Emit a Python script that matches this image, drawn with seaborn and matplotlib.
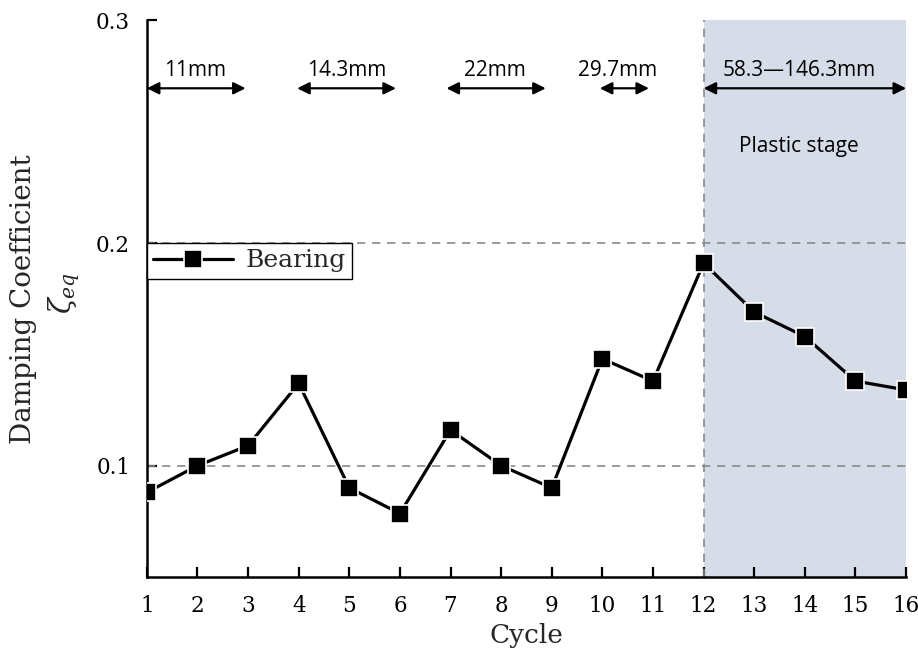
import matplotlib
matplotlib.use("Agg")
import matplotlib.pyplot as plt
import seaborn as sns
import pandas as pd

# Equivalent damping coefficient per loading cycle
cycles = list(range(1, 17))
zeta_eq = [0.088, 0.100, 0.109, 0.137, 0.090, 0.0785, 0.116, 0.100,
           0.090, 0.148, 0.138, 0.191, 0.169, 0.158, 0.138, 0.134]

# Displacement-amplitude brackets drawn above the curve
span_labels = ["11mm", "14.3mm", "22mm", "29.7mm", "58.3\u2014146.3mm"]
span_start = [1.0, 3.97, 6.92, 9.95, 12.0]
span_end = [2.95, 5.92, 8.88, 10.92, 16.0]
span_text_x = [1.95, 4.95, 7.87, 10.3, 13.88]

plastic_from, plastic_to = 12, 16
ref_levels = [0.1, 0.2]
y_ticks = [0.1, 0.2, 0.3]
y_tick_labels = ["0.1", "0.2", "0.3"]

df = pd.DataFrame({"Cycle": cycles, "zeta": zeta_eq})

sns.set_theme(style="ticks")
plt.rcParams["font.family"] = ["DejaVu Serif"]
plt.rcParams["mathtext.fontset"] = "dejavuserif"

fig = plt.figure(figsize=(9.18, 6.51), dpi=100)
ax = fig.add_axes([0.160, 0.1137, 0.827, 0.855])

ax.axvspan(plastic_from, plastic_to, color="#d6dde9", zorder=0, lw=0)
for lv in ref_levels:
    ax.axhline(lv, color="#8a8a8a", lw=1.2, ls=(0, (5, 4)), zorder=1)
ax.axvline(plastic_from, color="#8a8a8a", lw=1.2, ls=(0, (5, 4)), zorder=1)

sns.lineplot(data=df, x="Cycle", y="zeta", ax=ax, color="black",
             linewidth=2.3, marker="s", markersize=12.5,
             markeredgecolor="white", markeredgewidth=1.2,
             label="Bearing", zorder=3)

ax.set_xlim(1, 16)
ax.set_ylim(0.05, 0.3)
ax.set_xticks(cycles)
ax.set_yticks(y_ticks)
ax.set_yticklabels(y_tick_labels)

for s in ["top", "right"]:
    ax.spines[s].set_visible(False)
for s in ["left", "bottom"]:
    ax.spines[s].set_linewidth(1.8)
    ax.spines[s].set_color("black")

ax.tick_params(axis="both", direction="in", length=7, width=1.6,
               labelsize=15.5, colors="black")
ax.tick_params(axis="x", pad=13)
ax.tick_params(axis="y", pad=12)

ax.set_xlabel("Cycle", fontsize=19, labelpad=4)
ax.set_ylabel("")
# Two-line y-axis title placed line by line
fig.text(24 / 918, 1 - 299 / 651, "Damping Coefficient", rotation=90,
         ha="center", va="center", fontsize=20)
fig.text(64 / 918, 1 - 293 / 651, "$\\zeta_{eq}$", rotation=90,
         ha="center", va="center", fontsize=21)

sans = ["Open Sans", "DejaVu Sans"]
arrow_y = 0.2695
for lab, x0, x1, tx in zip(span_labels, span_start, span_end, span_text_x):
    ax.annotate("", xy=(x1, arrow_y), xytext=(x0, arrow_y),
                arrowprops=dict(arrowstyle="<|-|>", color="black", lw=1.6,
                                mutation_scale=18, shrinkA=0, shrinkB=0),
                annotation_clip=False, zorder=4)
    ax.text(tx, 0.2728, lab, ha="center", va="bottom", fontsize=15,
            family=sans, color="black")

ax.text(13.88, 0.2435, "Plastic stage", ha="center", va="center",
        fontsize=15, family=sans, color="black")

leg = ax.legend(loc="upper left", bbox_to_anchor=(0.0, 0.6), borderaxespad=0,
                frameon=True, fancybox=False, edgecolor="black",
                fontsize=18, handlelength=3.2, handletextpad=0.5,
                borderpad=0.25)
leg.get_frame().set_linewidth(1.0)
leg.get_frame().set_facecolor("white")
leg.get_frame().set_alpha(1)

fig.savefig("out.png", dpi=100)
